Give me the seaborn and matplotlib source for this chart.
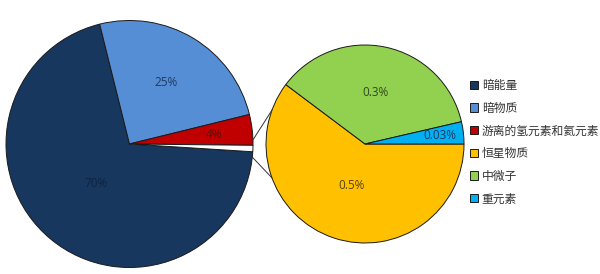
import numpy as np
import matplotlib
matplotlib.use("Agg")
import matplotlib.pyplot as plt
import seaborn as sns

# ---- data ----
main_labels = ["暗能量", "暗物质", "游离的氢元素和氦元素", "其他"]
main_values = [70, 25, 4, 0.83]
main_pct = ["70%", "25%", "4%", ""]
main_colors = ["#17375E", "#558ED5", "#C00000", "#FFFFFF"]

sub_labels = ["恒星物质", "中微子", "重元素"]
sub_values = [0.5, 0.3, 0.03]
sub_pct = ["0.5%", "0.3%", "0.03%"]
sub_colors = ["#FFC000", "#92D050", "#00B0F0"]

sns.set_theme(style="white")
plt.rcParams["font.family"] = ["Noto Sans CJK SC", "DejaVu Sans"]

W, H = 600, 274
fig = plt.figure(figsize=(W / 100, H / 100), dpi=100)
fig.patch.set_facecolor("white")
ax = fig.add_axes([0, 0, 1, 1])

# pixel-based geometry (y up)
c1 = (129.5, H - 144.0); r1 = 123.5
c2 = (365.0, H - 144.0); r2 = 99.0

wedge_kw = dict(edgecolor="#1a1a1a", linewidth=0.7)
w1, _ = ax.pie(main_values, colors=main_colors, center=c1, radius=r1,
               startangle=356.4, counterclock=False, wedgeprops=wedge_kw)
w2, _ = ax.pie(sub_values, colors=sub_colors, center=c2, radius=r2,
               startangle=0, counterclock=False, wedgeprops=wedge_kw)

ax.set_xlim(0, W)
ax.set_ylim(0, H)
ax.set_aspect("equal")
ax.axis("off")

# percentage labels
main_dist = [0.42, 0.58, 0.69, 0]
main_tc = ["#0e2340", "#1f3864", "#5e0b0b", "k"]
for w, t, d, tc in zip(w1, main_pct, main_dist, main_tc):
    if not t:
        continue
    a = np.deg2rad((w.theta1 + w.theta2) / 2)
    ax.text(c1[0] + d * r1 * np.cos(a), c1[1] + d * r1 * np.sin(a), t,
            ha="center", va="center", fontsize=8.5, color=tc,
            family=["Open Sans", "DejaVu Sans"])

sub_dist = [0.44, 0.53, 0.76]
sub_tc = ["#5a4210", "#2e4a1c", "#1f3864"]
for w, t, d, tc in zip(w2, sub_pct, sub_dist, sub_tc):
    a = np.deg2rad((w.theta1 + w.theta2) / 2)
    ax.text(c2[0] + d * r2 * np.cos(a), c2[1] + d * r2 * np.sin(a), t,
            ha="center", va="center", fontsize=8.5, color=tc,
            family=["Open Sans", "DejaVu Sans"])

# connector lines from the small slice to the second pie
ws = w1[-1]
for a_start, a_end in [(ws.theta2 + 2.5, 160), (ws.theta1 - 2.5, 200)]:
    s = np.deg2rad(a_start); e = np.deg2rad(a_end)
    ax.plot([c1[0] + r1 * np.cos(s), c2[0] + r2 * np.cos(e)],
            [c1[1] + r1 * np.sin(s), c2[1] + r2 * np.sin(e)],
            color="#333333", linewidth=0.7)

handles = list(w1[:3]) + list(w2)
labels = main_labels[:3] + sub_labels
leg = fig.legend(handles, labels, loc="upper left",
                 bbox_to_anchor=(470 / W, (H - 79) / H),
                 frameon=False, fontsize=8.5, handlelength=0.7, handleheight=0.7,
                 handletextpad=0.3, labelspacing=0.82, borderaxespad=0, borderpad=0)
for t in leg.get_texts():
    t.set_color("#333333")

fig.savefig("out.png", dpi=100, facecolor="white")
